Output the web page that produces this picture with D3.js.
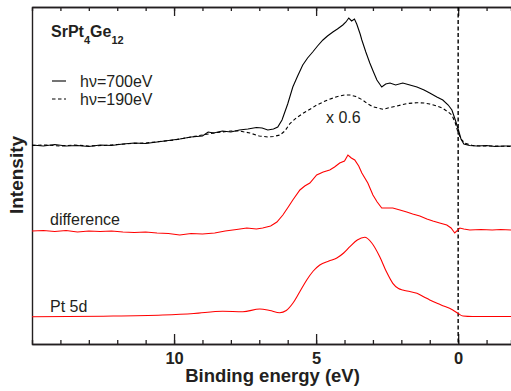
<!DOCTYPE html>
<html>
<head>
<meta charset="utf-8">
<script src="https://cdn.jsdelivr.net/npm/d3@7"></script>
<style>
  html, body { margin: 0; padding: 0; background: #fff; }
  svg { display: block; }
  text { font-family: "Liberation Sans", Arial, sans-serif; fill: #231f20; }
</style>
</head>
<body>
<div id="chart"></div>
<script>
// binding energy (eV), intensity (arb. units)
const hv700 = [
  [15.0, 199], [14.6, 198], [14.2, 199.5], [13.8, 198], [13.4, 198.5], [13.0, 197.5],
  [12.6, 199], [12.2, 198.5], [11.8, 200], [11.4, 201], [11.0, 200.5], [10.6, 202],
  [10.2, 203.5], [9.8, 205], [9.4, 207], [9.0, 208], [8.8, 212], [8.6, 211], [8.3, 213],
  [8.0, 212], [7.7, 214], [7.4, 215], [7.1, 216.5], [6.9, 216], [6.7, 214], [6.5, 215],
  [6.35, 217], [6.2, 224], [6.0, 240], [5.82, 257], [5.65, 268], [5.47, 279], [5.3, 286],
  [5.12, 292], [4.95, 298], [4.76, 304], [4.6, 308], [4.41, 312], [4.25, 315], [4.06, 319],
  [3.95, 322], [3.85, 326], [3.75, 323], [3.65, 325], [3.57, 320], [3.45, 310], [3.39, 304],
  [3.25, 292], [3.11, 281], [2.98, 272], [2.86, 264], [2.69, 257], [2.55, 260], [2.4, 261],
  [2.2, 259], [1.95, 261], [1.7, 259], [1.45, 257], [1.2, 254], [1.0, 251], [0.75, 247],
  [0.54, 244], [0.35, 239], [0.22, 234], [0.1, 224], [0.0, 215], [-0.1, 205], [-0.2, 200],
  [-0.4, 198.5], [-0.66, 198], [-1.0, 198.5], [-1.3, 197.5], [-1.6, 198], [-1.86, 198]
];

const hv190 = [
  [15.0, 198.5], [14.5, 199], [14.0, 198], [13.5, 199], [13.0, 198], [12.5, 198.5],
  [12.0, 199.5], [11.5, 200.5], [11.0, 201], [10.5, 202.5], [10.0, 204], [9.5, 206.5],
  [9.0, 209], [8.5, 211.5], [8.0, 213], [7.7, 213], [7.33, 211], [7.0, 208], [6.7, 207],
  [6.5, 207.5], [6.27, 209], [6.1, 213], [5.92, 220.5], [5.7, 226], [5.47, 230.5],
  [5.2, 235], [4.98, 239], [4.6, 244], [4.27, 247.3], [4.0, 249], [3.81, 249], [3.6, 247.5],
  [3.36, 244], [3.2, 240.5], [3.0, 237.3], [2.65, 234.7], [2.4, 236.5], [2.16, 238],
  [1.8, 240.5], [1.45, 241.3], [1.2, 241], [1.0, 240], [0.75, 238], [0.54, 235.7],
  [0.35, 232], [0.22, 229], [0.1, 221], [0.01, 212], [-0.1, 205], [-0.24, 200.7],
  [-0.5, 198.5], [-0.76, 198], [-1.2, 198], [-1.86, 197.5]
];

const difference = [
  [15.0, 113], [14.6, 113.5], [14.2, 112.5], [13.8, 113.5], [13.4, 112], [13.0, 113],
  [12.6, 112.5], [12.2, 113], [11.8, 112], [11.4, 111.5], [11.0, 112], [10.6, 111],
  [10.2, 110.5], [9.8, 109], [9.4, 110.5], [9.0, 110], [8.57, 111], [8.2, 113], [7.8, 114.5],
  [7.44, 116], [7.1, 115], [6.88, 116], [6.6, 118], [6.38, 122], [6.17, 129], [5.98, 137],
  [5.82, 144], [5.57, 154], [5.4, 158], [5.22, 161], [4.98, 169], [4.75, 172], [4.52, 174],
  [4.35, 177], [4.17, 181], [4.0, 183], [3.88, 189], [3.76, 186], [3.64, 184], [3.5, 178],
  [3.39, 171], [3.18, 161], [3.0, 149], [2.85, 142], [2.69, 136], [2.5, 136], [2.3, 136],
  [2.05, 134], [1.81, 132], [1.6, 130], [1.35, 128], [1.1, 125], [0.89, 123], [0.65, 121],
  [0.4, 119], [0.25, 116], [0.12, 111], [-0.06, 116], [-0.2, 115], [-0.41, 114],
  [-0.8, 114.5], [-1.2, 114], [-1.5, 114.5], [-1.86, 114]
];

const pt5d = [
  [15.0, 27.3], [12.5, 27.8], [10.4, 29], [9.3, 30.5], [8.29, 32.7], [7.58, 32.3],
  [6.98, 35], [6.63, 33.5], [6.28, 31.3], [6.05, 33.5], [5.82, 40.7], [5.58, 52],
  [5.33, 64], [5.1, 73], [4.87, 79], [4.55, 83], [4.27, 86], [4.03, 91], [3.81, 97.3],
  [3.55, 104], [3.29, 106.7], [3.04, 101], [2.76, 87.3], [2.52, 72], [2.3, 60.7],
  [2.1, 55.5], [1.95, 54], [1.7, 52.5], [1.45, 50.7], [1.2, 47], [1.0, 44], [0.6, 39],
  [0.19, 34], [0.0, 30.5], [-0.17, 28], [-0.5, 27.5], [-1.86, 27.5]
];

const majorTicks = [10, 5, 0];
const minorTicks = d3.range(-1, 15);

const width = 511, height = 391;
const margin = { top: 7, right: 0, bottom: 47, left: 32 };

const svg = d3.select('#chart').append('svg')
  .attr('width', width)
  .attr('height', height);

const x = d3.scaleLinear()
  .domain([15, -1.86])
  .range([margin.left, width - margin.right]);

const y = d3.scaleLinear()
  .domain([0, 337])
  .range([height - margin.bottom, margin.top]);

const line = d3.line()
  .x(d => x(d[0]))
  .y(d => y(d[1]));

// Axes
const axisStyle = g => {
  g.selectAll('line').attr('stroke', '#231f20').attr('stroke-width', 1.3);
  g.select('.domain').attr('stroke', '#231f20').attr('stroke-width', 1.4);
};

svg.append('g')
  .attr('transform', `translate(0,${height - margin.bottom})`)
  .call(d3.axisBottom(x).tickValues(minorTicks).tickSize(-4).tickFormat(''))
  .call(axisStyle);

svg.append('g')
  .attr('transform', `translate(0,${height - margin.bottom})`)
  .call(d3.axisBottom(x).tickValues(majorTicks).tickSize(-10).tickSizeOuter(0).tickPadding(8).tickFormat(d3.format('d')))
  .call(axisStyle)
  .call(g => g.selectAll('text')
    .attr('font-size', '16.5px')
    .attr('font-weight', 'bold')
    .attr('font-family', '"Liberation Sans", Arial, sans-serif')
    .attr('fill', '#231f20'));

svg.append('g')
  .attr('transform', `translate(0,${margin.top})`)
  .call(d3.axisTop(x).tickValues(minorTicks).tickSize(-4).tickFormat(''))
  .call(axisStyle);

svg.append('g')
  .attr('transform', `translate(0,${margin.top})`)
  .call(d3.axisTop(x).tickValues(majorTicks).tickSize(-9).tickSizeOuter(0).tickFormat(''))
  .call(axisStyle);

svg.append('g')
  .attr('transform', `translate(${margin.left},0)`)
  .call(d3.axisLeft(y).tickValues([]).tickSizeOuter(0))
  .call(axisStyle);

// Fermi level
svg.append('line')
  .attr('x1', x(0)).attr('x2', x(0))
  .attr('y1', margin.top).attr('y2', height - margin.bottom)
  .attr('stroke', '#000')
  .attr('stroke-width', 1.4)
  .attr('stroke-dasharray', '4,2.5');

// Curves
svg.append('path')
  .datum(hv190)
  .attr('d', line)
  .attr('fill', 'none')
  .attr('stroke', '#000')
  .attr('stroke-width', 1.1)
  .attr('stroke-dasharray', '3.5,2.5');

svg.append('path')
  .datum(hv700)
  .attr('d', line)
  .attr('fill', 'none')
  .attr('stroke', '#000')
  .attr('stroke-width', 1.1);

svg.append('path')
  .datum(difference)
  .attr('d', line)
  .attr('fill', 'none')
  .attr('stroke', '#ff0000')
  .attr('stroke-width', 1.1);

svg.append('path')
  .datum(pt5d)
  .attr('d', line.curve(d3.curveMonotoneX))
  .attr('fill', 'none')
  .attr('stroke', '#ff0000')
  .attr('stroke-width', 1.1);

// Title
const title = svg.append('text')
  .attr('x', 51)
  .attr('y', 37)
  .attr('font-size', '16px')
  .attr('font-weight', 'bold');
title.append('tspan').text('SrPt');
title.append('tspan').attr('font-size', '11px').attr('dy', 7).text('4');
title.append('tspan').attr('dy', -7).text('Ge');
title.append('tspan').attr('font-size', '11px').attr('dy', 7).text('12');

// Legend
const legend = [
  { label: 'hν=700eV', dash: null, y: 81 },
  { label: 'hν=190eV', dash: '3.5,2.5', y: 99 }
];
legend.forEach(l => {
  svg.append('line')
    .attr('x1', 52).attr('x2', 66)
    .attr('y1', l.y).attr('y2', l.y)
    .attr('stroke', '#000')
    .attr('stroke-width', 1.1)
    .attr('stroke-dasharray', l.dash);
  svg.append('text')
    .attr('x', 80)
    .attr('y', l.y + 6)
    .attr('font-size', '16px')
    .text(l.label);
});

svg.append('text')
  .attr('x', 326).attr('y', 123)
  .attr('font-size', '16px')
  .text('x 0.6');

svg.append('text')
  .attr('x', 50).attr('y', 225)
  .attr('font-size', '16px')
  .text('difference');

svg.append('text')
  .attr('x', 50).attr('y', 312)
  .attr('font-size', '16px')
  .text('Pt 5d');

// Axis titles
svg.append('text')
  .attr('x', (margin.left + width) / 2 + 1)
  .attr('y', 382)
  .attr('text-anchor', 'middle')
  .attr('font-size', '18.5px')
  .attr('font-weight', 'bold')
  .text('Binding energy (eV)');

svg.append('text')
  .attr('transform', 'translate(23,175) rotate(-90)')
  .attr('text-anchor', 'middle')
  .attr('font-size', '19px')
  .attr('font-weight', 'bold')
  .text('Intensity');
</script>
</body>
</html>
